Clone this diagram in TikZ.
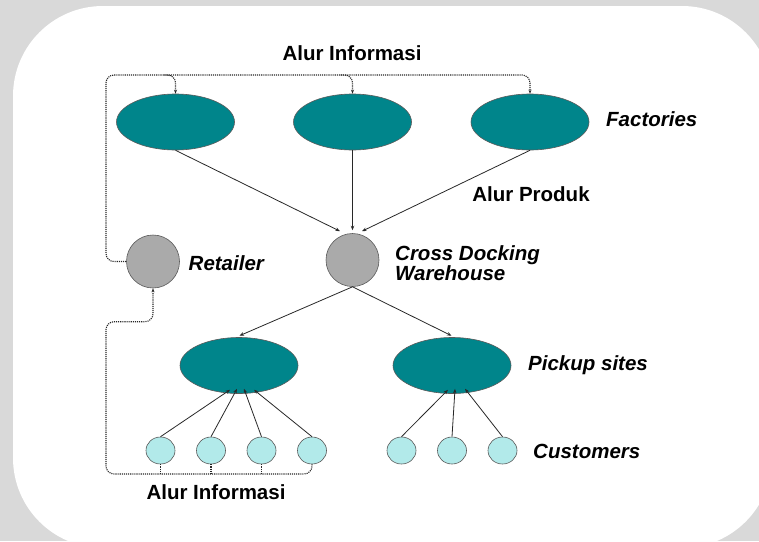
\documentclass[tikz,border=0pt]{standalone}
\usepackage{fontspec}
\setmainfont{Liberation Sans}
\usetikzlibrary{shapes.geometric,arrows.meta,calc}

\definecolor{pagegray}{RGB}{217,217,217}
\definecolor{tealfill}{RGB}{0,133,139}
\definecolor{grayfill}{RGB}{170,170,170}
\definecolor{custfill}{RGB}{178,234,234}
\definecolor{edgegray}{RGB}{90,90,90}
\definecolor{linegray}{RGB}{40,40,40}

\tikzset{
  site/.style={ellipse, fill=tealfill, draw=edgegray, line width=0.6pt,
    minimum width=118pt, minimum height=56pt, inner sep=0pt},
  hub/.style={circle, fill=grayfill, draw=edgegray, line width=0.6pt,
    minimum size=53pt, inner sep=0pt},
  cust/.style={ellipse, fill=custfill, draw=edgegray, line width=0.6pt,
    minimum width=29pt, minimum height=27pt, inner sep=0pt},
  flow/.style={draw=linegray, line width=0.8pt,
    -{Stealth[length=4.5pt,width=3.5pt]}},
  info/.style={draw=black!85, line width=1.1pt, densely dotted,
    rounded corners=8pt, -{Stealth[length=4pt,width=3pt]}},
  infoline/.style={draw=black!85, line width=1.1pt, densely dotted,
    rounded corners=6pt},
  lbl/.style={inner sep=0pt, anchor=base west,
    font=\fontsize{20.5}{19.5}\selectfont\bfseries\itshape, text=black},
  flowlbl/.style={inner sep=0pt, anchor=base,
    font=\fontsize{20.5}{20}\selectfont\bfseries, text=black}
}

\begin{document}
\begin{tikzpicture}[x=1pt, y=-1pt]
  \useasboundingbox (0,0) rectangle (759,541);
  % page and rounded panel
  \fill[pagegray] (0,0) rectangle (759,541);
  \fill[white, rounded corners=90pt] (13,6) rectangle (772,548);

  % factories
  \node[site] (F1) at (175.5,122) {};
  \node[site] (F2) at (352.5,122) {};
  \node[site] (F3) at (530,122) {};

  % retailer and cross docking warehouse
  \node[hub] (R) at (153,261.5) {};
  \node[hub] (C) at (352.5,260) {};

  % pickup sites
  \node[site] (P1) at (239,365.5) {};
  \node[site] (P2) at (452,365.5) {};

  % customers
  \node[cust] (c1) at (160.5,450.5) {};
  \node[cust] (c2) at (211,450.5) {};
  \node[cust] (c3) at (261.5,450.5) {};
  \node[cust] (c4) at (312,450.5) {};
  \node[cust] (c5) at (401.5,450.5) {};
  \node[cust] (c6) at (452,450.5) {};
  \node[cust] (c7) at (502.5,450.5) {};

  % product flow
  \draw[flow] (F1.south) -- ($(C.north)+(-12.5,-2)$);
  \draw[flow] (F2.south) -- ($(C.north)+(0,-3)$);
  \draw[flow] (F3.south) -- ($(C.north)+(9.5,-2)$);
  \draw[flow] (C.south) -- ($(P1.north)+(0.5,-1.5)$);
  \draw[flow] (C.south) -- ($(P2.north)+(-0.5,-1.5)$);

  \draw[flow] (c1.north) -- ($(P1.south)+(-9,-4)$);
  \draw[flow] (c2.north) -- ($(P1.south)+(-2,-5)$);
  \draw[flow] (c3.north) -- ($(P1.south)+(5,-5)$);
  \draw[flow] (c4.north) -- ($(P1.south)+(15,-4)$);
  \draw[flow] (c5.north) -- ($(P2.south)+(-4,-4)$);
  \draw[flow] (c6.north) -- ($(P2.south)+(3,-5)$);
  \draw[flow] (c7.north) -- ($(P2.south)+(13,-5)$);

  % information flow: retailer up to the factories
  \coordinate (tl) at (106,75);
  \draw[info] (R.west) -| (tl) -| (F3.north);
  \draw[info] (F1.north |- tl) ++(-12,0) -| (F1.north);
  \draw[info] (F2.north |- tl) ++(-12,0) -| (F2.north);

  % information flow: customers back to the retailer
  \coordinate (bl) at (106,474);
  \coordinate (ml) at (106,321.7);
  \draw[info] (c4.south) |- (bl) -- (ml) -| (R.south);
  \draw[infoline] (c1.south) -- (c1.south |- bl);
  \draw[infoline] (c2.south) -- (c2.south |- bl);
  \draw[infoline] (c3.south) -- (c3.south |- bl);

  % labels
  \node[flowlbl] (tInfoTop) at (352,60.7) {Alur Informasi};
  \node[flowlbl] (tProduk) at (531,201.7) {Alur Produk};
  \node[flowlbl] (tInfoBot) at (216,499) {Alur Informasi};
  \node[lbl] (tFact) at (606,126) {Factories};
  \node[lbl] (tRet) at (188.5,270) {Retailer};
  \node[lbl, align=left] (tCross) at (395,280) {Cross Docking\\Warehouse};
  \node[lbl] (tPick) at (528,370) {Pickup sites};
  \node[lbl] (tCust) at (533,458) {Customers};
\end{tikzpicture}
\end{document}
